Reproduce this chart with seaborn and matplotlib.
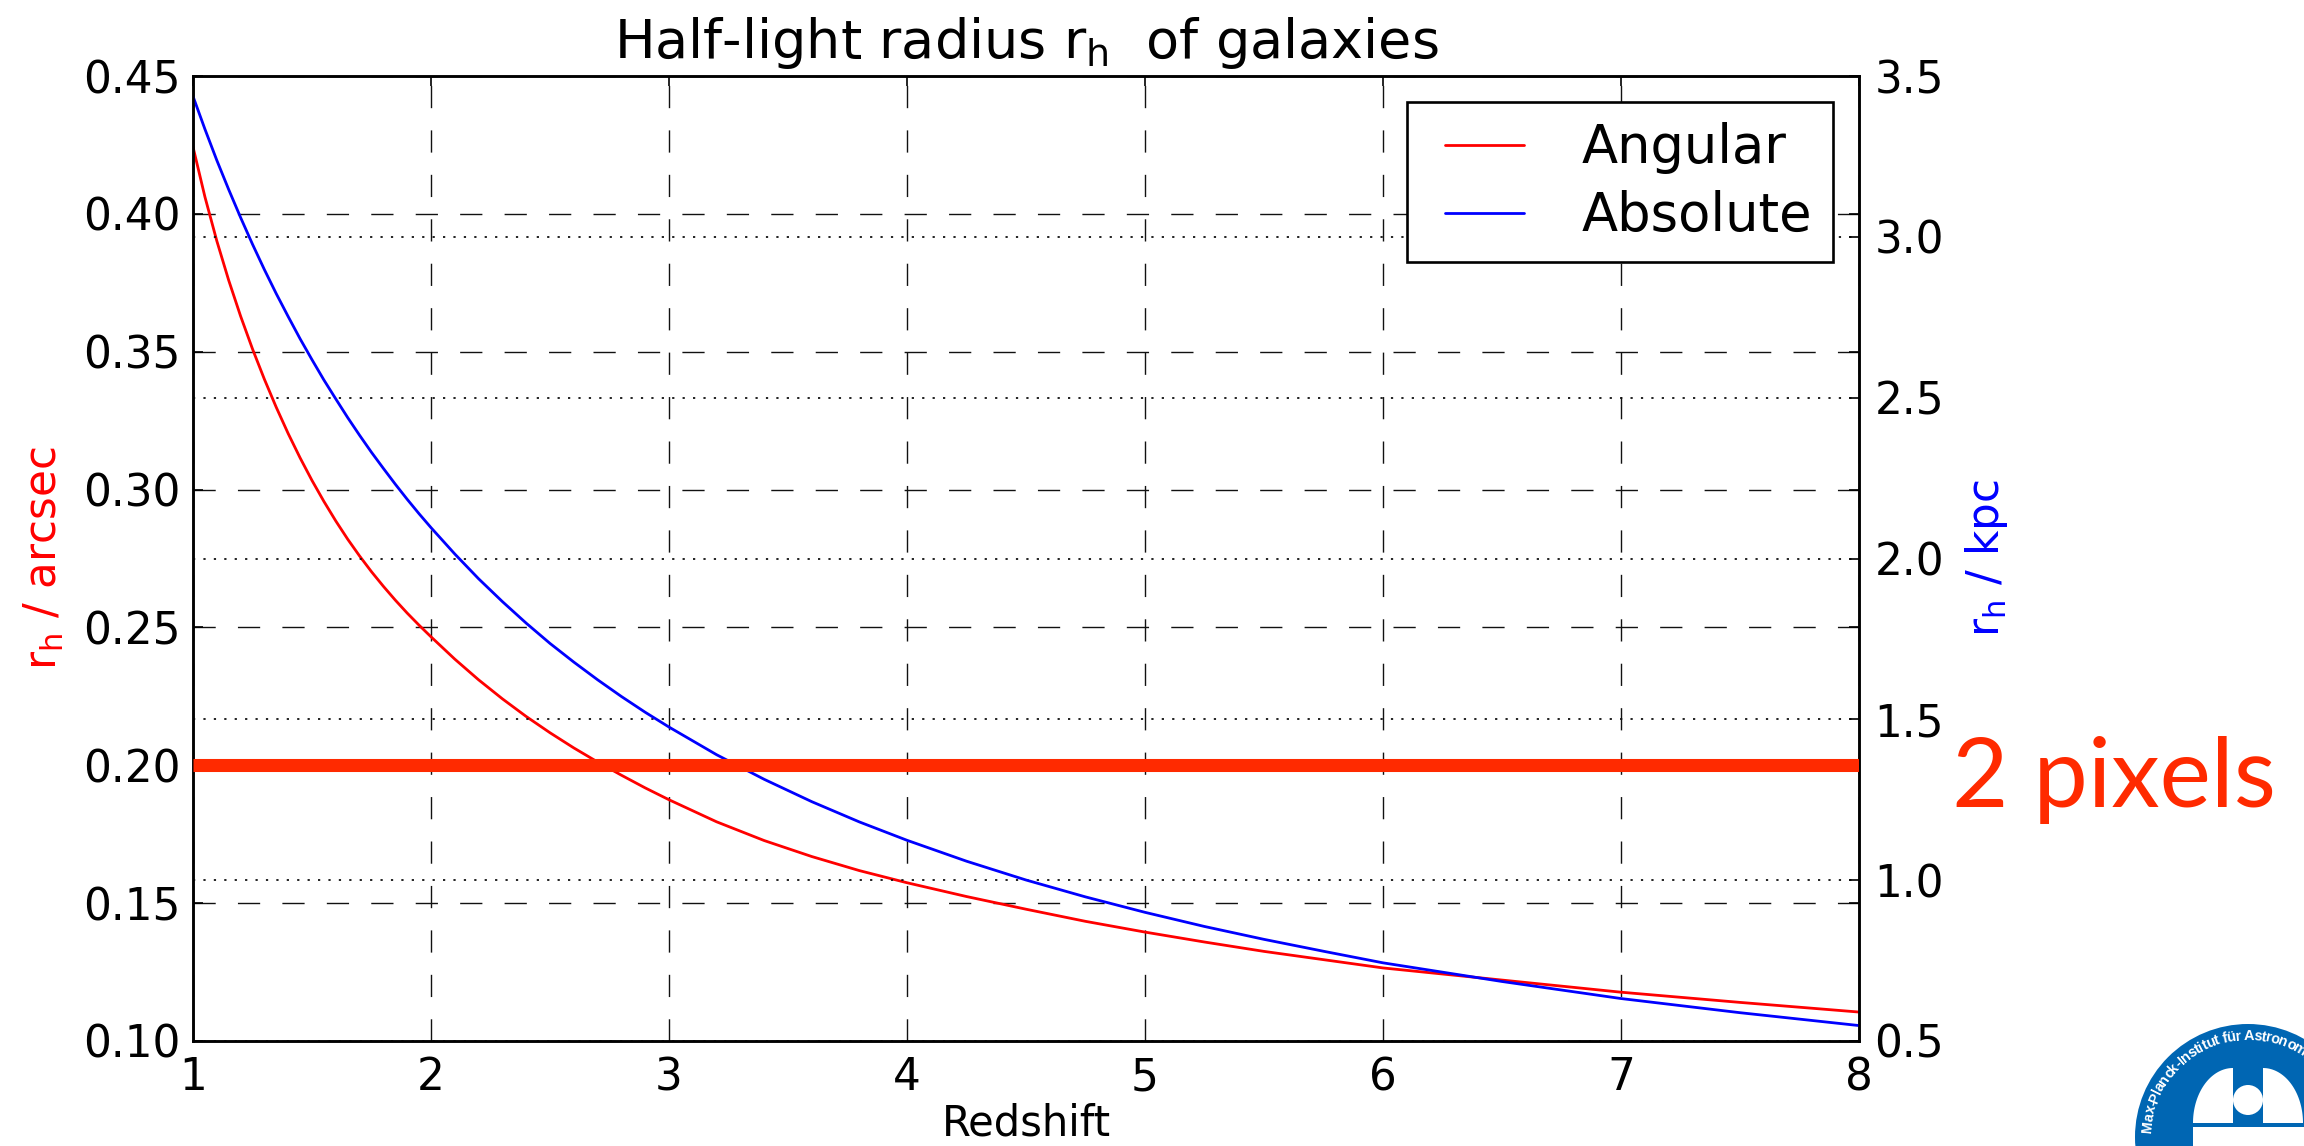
import matplotlib
matplotlib.use("Agg")
import matplotlib.pyplot as plt
import matplotlib.patches as mpatches
from matplotlib import font_manager
from matplotlib.legend_handler import HandlerLine2D
from matplotlib.transforms import blended_transform_factory
import numpy as np
import seaborn as sns

# ---- data -------------------------------------------------------------
redshift = [1.00, 1.05, 1.10, 1.15, 1.20, 1.25, 1.30, 1.35, 1.40, 1.45,
            1.50, 1.55, 1.60, 1.65, 1.70, 1.75, 1.80, 1.85, 1.90, 1.95,
            2.00, 2.10, 2.20, 2.30, 2.40, 2.50, 2.60, 2.70, 2.80, 2.90,
            3.00, 3.20, 3.40, 3.60, 3.80, 4.00, 4.25, 4.50, 4.75, 5.00,
            5.25, 5.50, 5.75, 6.00, 6.50, 7.00, 7.50, 8.00]
angular_arcsec = [0.4243, 0.4062, 0.3902, 0.3759, 0.3629, 0.3510, 0.3400,
                  0.3298, 0.3203, 0.3115, 0.3033, 0.2957, 0.2886, 0.2820,
                  0.2759, 0.2702, 0.2649, 0.2599, 0.2552, 0.2508, 0.2466,
                  0.2385, 0.2310, 0.2241, 0.2177, 0.2118, 0.2063, 0.2012,
                  0.1964, 0.1918, 0.1875, 0.1795, 0.1727, 0.1669, 0.1618,
                  0.1574, 0.1524, 0.1478, 0.1434, 0.1395, 0.1359, 0.1325,
                  0.1295, 0.1265, 0.1221, 0.1177, 0.1140, 0.1105]
absolute_kpc = [3.437, 3.335, 3.238, 3.147, 3.060, 2.977, 2.898, 2.823,
                2.752, 2.683, 2.618, 2.555, 2.496, 2.438, 2.383, 2.330,
                2.280, 2.231, 2.184, 2.139, 2.096, 2.014, 1.937, 1.866,
                1.799, 1.736, 1.678, 1.623, 1.571, 1.522, 1.476, 1.390,
                1.3135, 1.244, 1.181, 1.124, 1.059, 1.0005, 0.948, 0.900,
                0.856, 0.816, 0.779, 0.743, 0.685, 0.632, 0.588, 0.548]
series_labels = ["Angular", "Absolute"]
pixel_scale_arcsec = 0.20          # size of 2 detector pixels
pixel_label = "2 pixels"

x_ticks = [1, 2, 3, 4, 5, 6, 7, 8]
left_ticks = [0.10, 0.15, 0.20, 0.25, 0.30, 0.35, 0.40, 0.45]
right_ticks = [0.5, 1.0, 1.5, 2.0, 2.5, 3.0, 3.5]

title = r"Half-light radius r$_{h}$  of galaxies"
x_label = "Redshift"
left_label = r"r$_{h}$ / arcsec"
right_label = r"r$_{h}$ / kpc"
logo_text = "Max-Planck-Institut für Astronomie"

# ---- style ------------------------------------------------------------
sns.set_theme(style="white")
plt.rcParams["font.family"] = ["DejaVu Sans"]
plt.rcParams["mathtext.default"] = "regular"
plt.rcParams["lines.scale_dashes"] = False
for key in ("text.color", "axes.labelcolor", "xtick.color", "ytick.color",
            "axes.edgecolor"):
    plt.rcParams[key] = "black"

W, H, DPI = 2304, 1146, 100
fig = plt.figure(figsize=(W / DPI, H / DPI), dpi=DPI)
fig.patch.set_facecolor("white")
ax1 = fig.add_axes([193 / W, 1 - 1041 / H, (1859 - 193) / W, (1041 - 76) / H])
ax2 = ax1.twinx()
ax2.patch.set_visible(False)

TICK_FS = 31.5
RED = "#ff0000"
BLUE = "#0000ff"
HIGHLIGHT = "#ff2a00"

sns.lineplot(x=redshift, y=angular_arcsec, ax=ax1, color=RED, linewidth=2.0,
             label=series_labels[0], legend=False)
sns.lineplot(x=redshift, y=absolute_kpc, ax=ax2, color=BLUE, linewidth=2.0,
             label=series_labels[1], legend=False)

ax1.set_xlim(1, 8)
ax1.set_ylim(0.10, 0.45)
ax2.set_ylim(0.5, 3.5)
ax1.set_xticks(x_ticks)
ax1.set_yticks(left_ticks)
ax2.set_yticks(right_ticks)
ax1.set_xticklabels([str(t) for t in x_ticks])
ax1.set_yticklabels([f"{t:.2f}" for t in left_ticks])
ax2.set_yticklabels([f"{t:.1f}" for t in right_ticks])

ax1.grid(True, axis="both", color="#111111", linestyle=(0, (16, 16)), linewidth=1.0)
ax2.grid(True, axis="y", color="#111111", linestyle=(0, (1.6, 5.9)), linewidth=1.3)
ax2.grid(False, axis="x")

ax1.tick_params(axis="both", direction="in", length=7, width=1.2, colors="black",
                labelsize=TICK_FS, top=True, right=True, pad=9)
ax1.tick_params(axis="x", pad=11)
ax2.tick_params(axis="y", direction="in", length=7, width=1.2, colors="black",
                labelsize=TICK_FS, right=True, pad=11)

for ax in (ax1, ax2):
    for sp in ax.spines.values():
        sp.set_linewidth(1.8)
        sp.set_color("black")

ax1.set_title(title, fontsize=39, pad=13, color="black")
ax1.set_xlabel(x_label, fontsize=30, labelpad=2, color="black")
ax1.set_ylabel(left_label, fontsize=31.5, color=RED, labelpad=12)
ax2.set_ylabel(right_label, fontsize=31.5, color=BLUE, labelpad=14)

# highlighted 2-pixel level, drawn in left-axis units above everything
trans = blended_transform_factory(ax2.transAxes, ax1.transData)
ax2.plot([0, 1], [pixel_scale_arcsec, pixel_scale_arcsec], transform=trans,
         color=HIGHLIGHT, linewidth=9.4, solid_capstyle="butt", zorder=5)

# legend: line samples indented a little from the frame
handles = [ax1.lines[0], ax2.lines[0]]
lead = 0.33
leg = ax2.legend(handles, series_labels, loc="upper right", fontsize=38,
                 frameon=True, fancybox=False, framealpha=1.0, edgecolor="black",
                 handlelength=1.5 + lead, handletextpad=1.1, borderpad=0.38,
                 labelspacing=0.3, borderaxespad=0.5,
                 handler_map={h: HandlerLine2D(xpad=lead) for h in handles})
leg.get_frame().set_linewidth(1.9)
leg.set_zorder(10)
for t in leg.get_texts():
    t.set_color("black")

# ---- annotation and institute emblem in figure pixel space -------------
ov = fig.add_axes([0, 0, 1, 1], zorder=20)
ov.set_xlim(0, W)
ov.set_ylim(0, H)
ov.axis("off")
ov.patch.set_visible(False)

ov.text(1952, H - 807, pixel_label, color=HIGHLIGHT, fontsize=70,
        family=["Lato", "DejaVu Sans"], ha="left", va="baseline")

LOGO = "#0066b3"
cx, cy, R = 2248, H - 1137, 113
ov.add_patch(mpatches.Circle((cx, cy), R, color=LOGO, lw=0))
# observatory dome: two quarter-ellipse halves, slit and mirror, base band
t = np.linspace(0, np.pi / 2, 40)
base_y = cy + 14
left_half = np.column_stack([cx - 15 - 40 * np.cos(t), base_y + 55 * np.sin(t)])
left_half = np.vstack([[cx - 15, base_y], left_half])
right_half = np.column_stack([cx + 15 + 40 * np.cos(t), base_y + 55 * np.sin(t)])
right_half = np.vstack([[cx + 15, base_y], right_half])
ov.add_patch(mpatches.Polygon(left_half, closed=True, color="white", lw=0))
ov.add_patch(mpatches.Polygon(right_half, closed=True, color="white", lw=0))
ov.add_patch(mpatches.Circle((cx, cy + 37), 15, color="white", lw=0))
ov.add_patch(mpatches.Rectangle((cx - 55, cy - 20), 130, 30, color="white", lw=0))

# curved institute name in a narrow bold face
installed = {f.name for f in font_manager.fontManager.ttflist}
narrow = "Liberation Sans Narrow" in installed
logo_family = ["Liberation Sans Narrow" if narrow else "Liberation Sans", "DejaVu Sans"]
widths = {"M": .833, "a": .556, "x": .556, "-": .333, "P": .667, "l": .278,
          "n": .611, "c": .556, "k": .556, "I": .278, "s": .556, "t": .333,
          "i": .278, "u": .611, " ": .278, "f": .333, "ü": .611, "r": .389,
          "A": .722, "o": .611, "m": .889, "e": .556}
em = 16.5 if narrow else 14.5
r_text = 97
theta = np.deg2rad(177)
for ch in logo_text:
    w = widths.get(ch, .556) * 13.0
    mid = theta - (w / 2) / r_text
    ov.text(cx + r_text * np.cos(mid), cy + r_text * np.sin(mid), ch,
            rotation=np.rad2deg(mid) - 90, rotation_mode="anchor",
            ha="center", va="baseline", color="white", fontsize=em * 72 / DPI,
            family=logo_family, fontweight="bold")
    theta -= w / r_text

fig.savefig("out.png", dpi=DPI, facecolor="white")
